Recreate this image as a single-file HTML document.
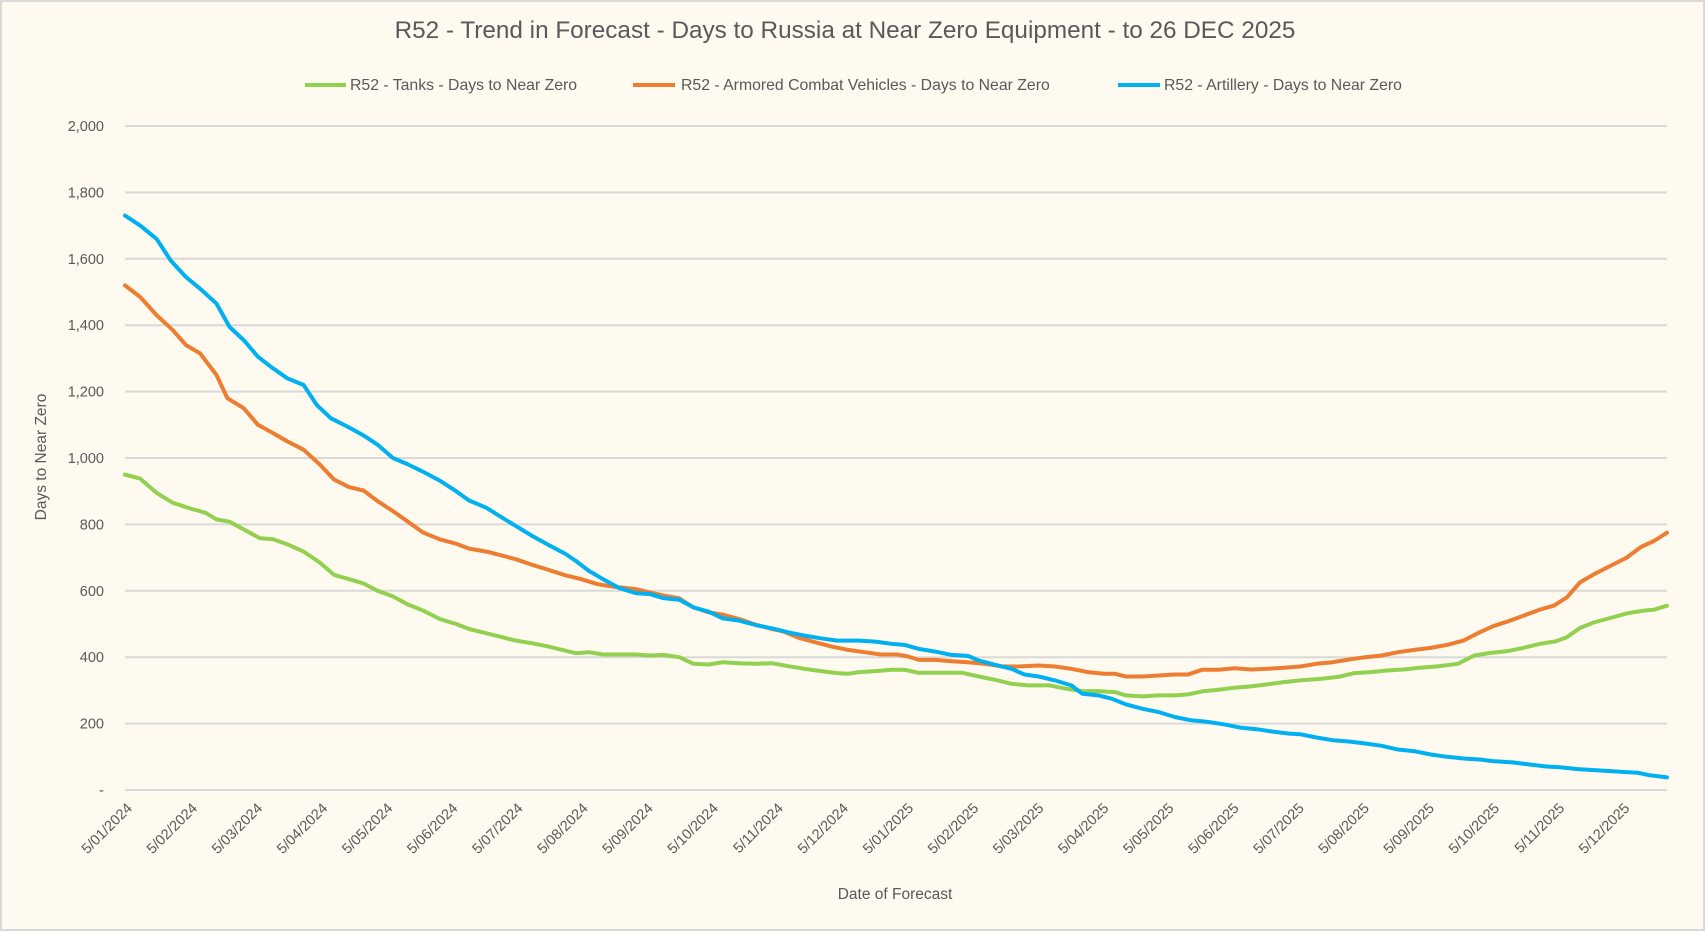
<!DOCTYPE html>
<html><head><meta charset="utf-8"><style>
html,body{margin:0;padding:0;background:#fff;}
svg{display:block;font-family:"Liberation Sans",sans-serif;}
</style></head><body>
<svg id="c" width="1706" height="932" viewBox="0 0 1706 932" xmlns="http://www.w3.org/2000/svg">
<rect x="1" y="1" width="1703" height="929" fill="#fefaf0" stroke="#d9d9d9" stroke-width="2"/>
<text x="845" y="38" text-anchor="middle" font-size="24.3" fill="#595959">R52 - Trend in Forecast - Days to Russia at Near Zero Equipment - to 26 DEC 2025</text>
<g font-size="15.8" fill="#595959">
<line x1="305" y1="85" x2="346" y2="85" stroke="#92d050" stroke-width="4"/><text x="350" y="90">R52 - Tanks - Days to Near Zero</text>
<line x1="633" y1="85" x2="675" y2="85" stroke="#ed7d31" stroke-width="4"/><text x="681" y="90">R52 - Armored Combat Vehicles - Days to Near Zero</text>
<line x1="1118" y1="85" x2="1160" y2="85" stroke="#00b0f0" stroke-width="4"/><text x="1164" y="90">R52 - Artillery - Days to Near Zero</text>
</g>
<g id="grid" stroke="#d9d9d9" stroke-width="2"></g>
<g id="ylab" font-size="14.5" fill="#595959" text-anchor="end"></g>
<g id="xlab" font-size="14.5" fill="#595959" text-anchor="end"></g>
<text transform="translate(46,457) rotate(-90)" text-anchor="middle" font-size="15.5" fill="#595959">Days to Near Zero</text>
<text x="895" y="899" text-anchor="middle" font-size="15.5" fill="#595959">Date of Forecast</text>
<g id="series" fill="none" stroke-width="4" stroke-linejoin="round" stroke-linecap="round"></g>
</svg>
<script>
var NS="http://www.w3.org/2000/svg";
function el(t,a,p,txt){var e=document.createElementNS(NS,t);for(var k in a)e.setAttribute(k,a[k]);if(txt!=null)e.textContent=txt;document.getElementById(p).appendChild(e);return e;}
var labs=["-","200","400","600","800","1,000","1,200","1,400","1,600","1,800","2,000"];
for(var i=0;i<=10;i++){var y=790-i*66.4;el("line",{x1:125,x2:1667,y1:y,y2:y},"grid");el("text",{x:104,y:y+5},"ylab",labs[i]);}
var mons=[];for(var yr=2024;yr<=2025;yr++)for(var m=1;m<=12;m++)mons.push("5/"+(m<10?"0":"")+m+"/"+yr);
for(var i=0;i<24;i++){var x=125+i*65.1;el("text",{x:0,y:0,transform:"translate("+(x+8)+",809) rotate(-45)"},"xlab",mons[i]);}
function X(s){return 125+(s-116)*1.089;}function Y(v){return 790-v*0.332;}
var G=[116,950,130,938,145,895,160,865,176,848,190,835,200,815,212,808,225,785,240,758,252,755,265,740,280,718,295,685,308,648,322,635,335,622,348,600,362,583,375,560,390,540,405,515,420,500,432,485,448,472,460,462,475,450,490,442,505,432,520,420,530,412,542,415,555,408,570,408,585,408,598,405,610,407,625,400,638,380,652,378,665,385,680,382,695,380,710,382,725,373,740,365,755,358,770,352,780,350,790,355,805,358,820,362,832,362,845,353,860,353,870,353,885,353,900,342,915,332,930,320,945,315,965,315,980,305,995,298,1010,298,1025,295,1035,285,1050,282,1065,285,1080,285,1092,288,1105,297,1120,302,1135,308,1150,312,1165,318,1180,325,1195,330,1215,335,1232,342,1245,352,1260,355,1275,360,1290,363,1305,368,1320,372,1340,380,1355,405,1370,413,1385,418,1400,428,1415,440,1430,448,1440,460,1452,488,1465,505,1480,518,1495,532,1510,540,1520,543,1532,555];
var O=[116,1520,130,1485,145,1430,160,1385,172,1340,185,1315,200,1250,210,1180,225,1150,238,1100,252,1075,265,1050,280,1025,295,980,308,935,322,912,335,902,348,870,362,840,375,810,390,775,405,755,420,742,432,727,448,718,460,708,475,695,490,678,505,663,520,647,535,635,550,620,565,612,585,605,598,595,612,585,625,577,638,550,652,535,665,528,680,515,695,498,710,485,720,478,735,458,750,445,765,432,780,422,795,415,810,408,825,408,835,402,845,392,860,392,875,388,890,385,905,380,920,373,935,372,955,375,970,372,985,365,1000,355,1015,350,1025,350,1035,342,1050,342,1065,345,1080,348,1092,348,1105,362,1120,362,1135,367,1150,363,1165,365,1180,368,1195,372,1210,380,1225,385,1240,393,1255,400,1270,405,1285,415,1300,422,1315,428,1330,437,1345,450,1360,475,1372,493,1385,507,1400,525,1415,543,1428,555,1440,580,1452,625,1465,650,1480,675,1495,700,1508,732,1520,750,1532,775];
var B=[116,1730,130,1700,145,1660,158,1595,172,1545,185,1510,200,1465,212,1395,225,1355,238,1305,252,1270,265,1240,280,1220,292,1160,305,1120,320,1095,335,1068,348,1040,362,1000,375,982,390,958,405,932,420,900,432,872,448,850,460,825,475,795,490,765,505,738,520,712,530,690,542,660,555,635,570,608,585,593,598,590,610,578,625,573,638,550,652,537,665,517,680,510,695,497,710,487,725,475,740,465,755,457,770,450,790,450,805,447,820,440,832,437,845,425,860,417,875,407,890,404,900,390,915,377,930,365,942,348,955,342,970,330,985,315,995,290,1010,285,1022,275,1035,258,1050,245,1065,235,1080,220,1095,210,1110,205,1125,198,1140,188,1155,183,1170,176,1185,170,1195,168,1210,158,1225,150,1240,146,1255,140,1270,133,1285,122,1300,117,1315,107,1330,100,1345,95,1360,92,1372,87,1390,83,1405,77,1420,71,1435,68,1450,63,1465,60,1480,57,1495,54,1505,52,1515,45,1532,38];
function path(a,c){var d="";for(var i=0;i<a.length;i+=2)d+=(i?"L":"M")+X(a[i]).toFixed(1)+","+Y(a[i+1]).toFixed(1);el("path",{d:d,stroke:c},"series");}
path(G,"#92d050");path(O,"#ed7d31");path(B,"#00b0f0");
</script>
</body></html>
